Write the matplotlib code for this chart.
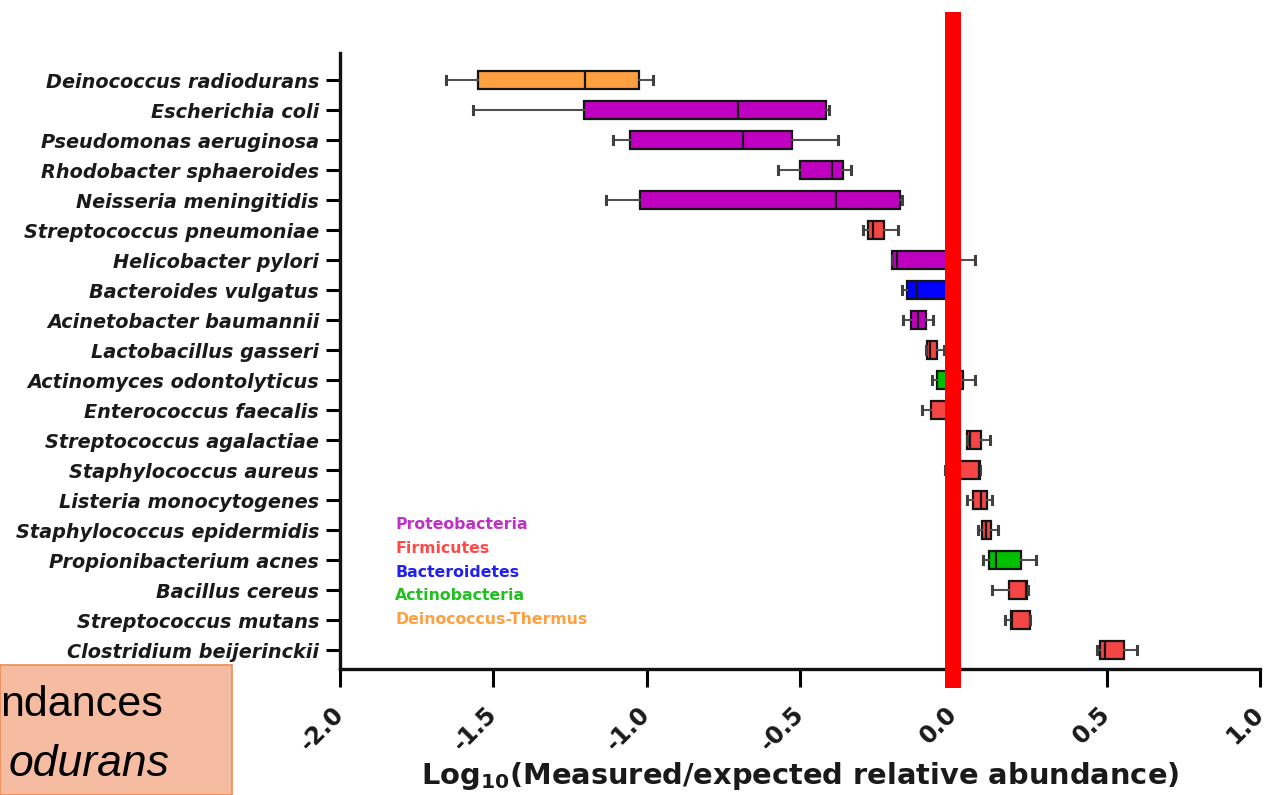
import matplotlib
matplotlib.use("Agg")
import matplotlib.pyplot as plt
from matplotlib.patches import Rectangle

plt.rcParams['font.family'] = ['DejaVu Sans']

species = ["Deinococcus radiodurans", "Escherichia coli", "Pseudomonas aeruginosa",
           "Rhodobacter sphaeroides", "Neisseria meningitidis", "Streptococcus pneumoniae",
           "Helicobacter pylori", "Bacteroides vulgatus", "Acinetobacter baumannii",
           "Lactobacillus gasseri", "Actinomyces odontolyticus", "Enterococcus faecalis",
           "Streptococcus agalactiae", "Staphylococcus aureus", "Listeria monocytogenes",
           "Staphylococcus epidermidis", "Propionibacterium acnes", "Bacillus cereus",
           "Streptococcus mutans", "Clostridium beijerinckii"]
phylum = ["Deinococcus-Thermus", "Proteobacteria", "Proteobacteria", "Proteobacteria",
          "Proteobacteria", "Firmicutes", "Proteobacteria", "Bacteroidetes",
          "Proteobacteria", "Firmicutes", "Actinobacteria", "Firmicutes", "Firmicutes",
          "Firmicutes", "Firmicutes", "Firmicutes", "Actinobacteria", "Firmicutes",
          "Firmicutes", "Firmicutes"]
whis_lo = [-1.653, -1.565, -1.109, -0.571, -1.131, -0.293, -0.199, -0.169, -0.163, -0.088,
           -0.068, -0.101, 0.046, -0.026, 0.046, 0.082, 0.098, 0.127, 0.170, 0.470]
q1 = [-1.549, -1.203, -1.053, -0.499, -1.021, -0.277, -0.199, -0.150, -0.137, -0.085,
      -0.052, -0.072, 0.046, -0.012, 0.065, 0.095, 0.117, 0.183, 0.189, 0.479]
med = [-1.200, -0.701, -0.685, -0.395, -0.381, -0.261, -0.183, -0.117, -0.114, -0.075,
       0.000, -0.005, 0.055, 0.083, 0.091, 0.108, 0.140, 0.238, 0.192, 0.496]
q3 = [-1.024, -0.414, -0.525, -0.359, -0.173, -0.225, 0.005, 0.000, -0.088, -0.052,
      0.033, 0.000, 0.091, 0.087, 0.111, 0.124, 0.222, 0.241, 0.251, 0.558]
whis_hi = [-0.978, -0.404, -0.375, -0.333, -0.166, -0.179, 0.072, 0.010, -0.065, -0.029,
           0.072, 0.000, 0.121, 0.087, 0.127, 0.147, 0.271, 0.245, 0.251, 0.600]

legend_names = ["Proteobacteria", "Firmicutes", "Bacteroidetes", "Actinobacteria",
                "Deinococcus-Thermus"]
box_colors = {"Proteobacteria": "#C000C0", "Firmicutes": "#F54545", "Bacteroidetes": "#0000FF",
              "Actinobacteria": "#00C000", "Deinococcus-Thermus": "#FFA040"}
text_colors = {"Proteobacteria": "#C030C8", "Firmicutes": "#FF4848", "Bacteroidetes": "#2020F0",
               "Actinobacteria": "#20C020", "Deinococcus-Thermus": "#FFA040"}
xticks = [-2.0, -1.5, -1.0, -0.5, 0.0, 0.5, 1.0]
xtick_labels = ["-2.0", "-1.5", "-1.0", "-0.5", "0.0", "0.5", "1.0"]

fig = plt.figure(figsize=(12.68, 7.95), dpi=100)
ax = fig.add_axes([340 / 1268, 1 - 669 / 795, 920 / 1268, 616 / 795])

stats = []
for i in range(len(species)):
    stats.append(dict(whislo=whis_lo[i], q1=q1[i], med=med[i], q3=q3[i], whishi=whis_hi[i],
                      fliers=[], label=species[i]))
positions = list(range(len(species)))
bp = ax.bxp(stats, positions=positions, orientation='horizontal', widths=0.63,
            patch_artist=True, showfliers=False, capwidths=0.28,
            boxprops=dict(edgecolor='#151515', linewidth=1.6),
            medianprops=dict(color='#151515', linewidth=1.6),
            whiskerprops=dict(color='#505050', linewidth=1.5),
            capprops=dict(color='#404040', linewidth=2.2))
for patch, ph in zip(bp['boxes'], phylum):
    patch.set_facecolor(box_colors[ph])

ax.set_ylim(19.633, -0.9)
ax.set_xlim(-2.0, 1.0)
ax.set_yticks(positions)
ax.set_yticklabels(species, fontsize=13.9, fontweight='bold', fontstyle='italic',
                   color='#1a1a1a')
ax.set_xticks(xticks)
ax.set_xticklabels(xtick_labels, fontsize=17, fontweight='bold', rotation=45,
                   ha='right', va='center', rotation_mode='anchor', color='#1a1a1a')
ax.tick_params(axis='y', length=10, width=2.2, pad=5)
ax.tick_params(axis='x', length=13, width=2.2, pad=17)
for s in ['top', 'right']:
    ax.spines[s].set_visible(False)
for s in ['left', 'bottom']:
    ax.spines[s].set_linewidth(2.4)
    ax.spines[s].set_color('#111111')

ax.set_xlabel("Log$_{\\mathbf{10}}$(Measured/expected relative abundance)", fontsize=20.8,
              fontweight='bold', color='#1a1a1a', labelpad=3)

# red reference line at zero
ax.plot([0, 0], [-0.031, 1.0666], transform=ax.get_xaxis_transform(), color='#FF0000',
        linewidth=11.5, solid_capstyle='butt', clip_on=False, zorder=5)

# phylum legend as coloured text
for k, name in enumerate(legend_names):
    ax.text(-1.82, 14.83 + k * 0.785, name, color=text_colors[name], fontsize=11.3,
            fontweight='bold', va='center', ha='left')

# overlay box from slide (bottom-left)
fig.patches.append(Rectangle((0, 0), 232 / 1268, 130 / 795, transform=fig.transFigure,
                             facecolor='#F6BCA2', edgecolor='#F08A50', linewidth=1.2,
                             zorder=10))
fig.text(0 / 1268, 1 - 705 / 795, "ndances", fontsize=31, va='center', ha='left',
         zorder=11, color='black', family=['Liberation Sans'])
fig.text(9 / 1268, 1 - 764 / 795, "odurans", fontsize=32, fontstyle='italic',
         va='center', ha='left', zorder=11, color='black', family=['Liberation Sans'])

fig.savefig("out.png", dpi=100)
